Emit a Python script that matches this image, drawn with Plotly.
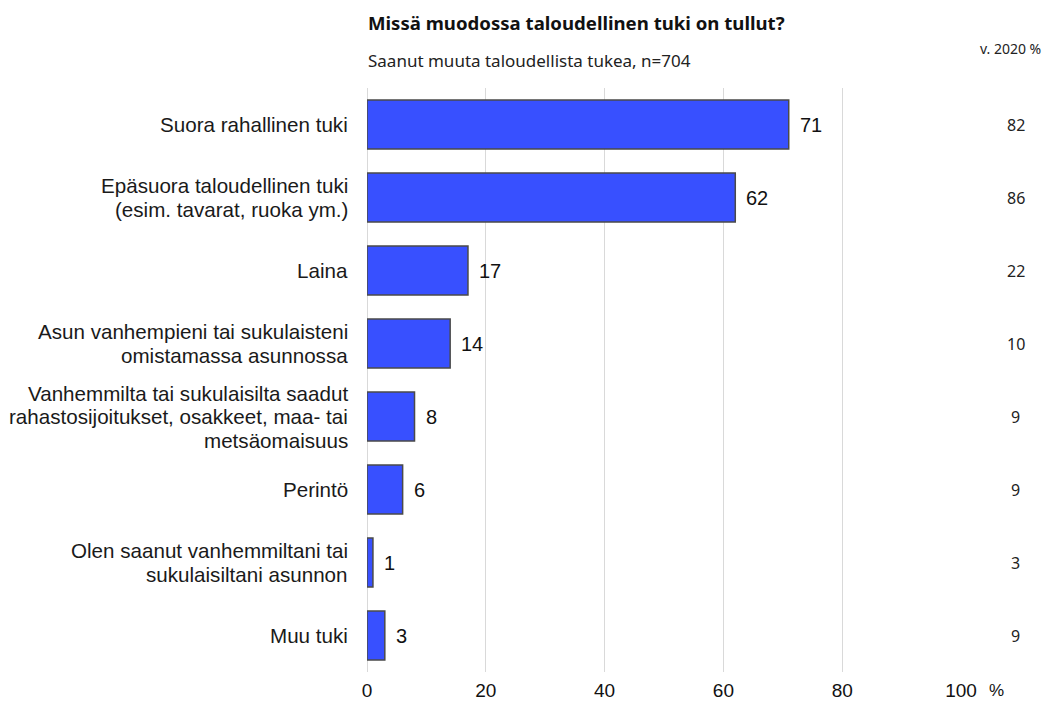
import plotly.graph_objects as go

categories = [
    "Suora rahallinen tuki",
    "Epäsuora taloudellinen tuki<br>(esim. tavarat, ruoka ym.)",
    "Laina",
    "Asun vanhempieni tai sukulaisteni<br>omistamassa asunnossa",
    "Vanhemmilta tai sukulaisilta saadut<br>rahastosijoitukset, osakkeet, maa- tai<br>metsäomaisuus",
    "Perintö",
    "Olen saanut vanhemmiltani tai<br>sukulaisiltani asunnon",
    "Muu tuki",
]
values_now = [71, 62, 17, 14, 8, 6, 1, 3]
values_2020 = [82, 86, 22, 10, 9, 9, 3, 9]
x_ticks = [0, 20, 40, 60, 80, 100]

LABEL_FONT = dict(family="Arial", size=20.6, color="#1a1a1a")
LINE_GAP = 23.5

fig = go.Figure()
fig.add_trace(go.Bar(
    y=categories,
    x=values_now,
    orientation="h",
    width=0.67,
    marker=dict(color="#3850ff", line=dict(color="#4a4a4a", width=1.5)),
    hoverinfo="skip",
))

# Category labels, one annotation per line for tighter line spacing
for cat in categories:
    lines = cat.split("<br>")
    n = len(lines)
    for i, line in enumerate(lines):
        fig.add_annotation(
            x=0, xref="paper", y=cat, yref="y",
            text=line, showarrow=False,
            xanchor="right", yanchor="middle",
            xshift=-17, yshift=((n - 1) / 2 - i) * LINE_GAP,
            font=LABEL_FONT,
        )

# Value labels just past each bar end
for cat, v in zip(categories, values_now):
    fig.add_annotation(
        x=v, xref="x", y=cat, yref="y",
        text=str(v), showarrow=False,
        xanchor="left", yanchor="middle", xshift=9,
        font=dict(family="Arial", size=20, color="#111"),
    )

# Comparison column for 2020
for cat, v in zip(categories, values_2020):
    fig.add_annotation(
        x=1.0925, xref="paper", y=cat, yref="y",
        text=str(v), showarrow=False,
        font=dict(family="Noto Sans", size=16, color="#222"),
        xanchor="center", yanchor="middle",
    )

fig.add_annotation(
    x=1.0606, xref="paper", y=0, yref="paper",
    text="%", showarrow=False, xanchor="center", yanchor="middle",
    yshift=-18,
    font=dict(family="Arial", size=17, color="#111"),
)

fig.add_annotation(
    x=0, xref="paper", y=1, yref="paper",
    text="<b>Missä muodossa taloudellinen tuki on tullut?</b>",
    showarrow=False, xanchor="left", yanchor="middle",
    xshift=-1, yshift=66,
    font=dict(family="Noto Sans", size=18.6, color="#111"),
)
fig.add_annotation(
    x=0, xref="paper", y=1, yref="paper",
    text="Saanut muuta taloudellista tukea, n=704",
    showarrow=False, xanchor="left", yanchor="middle",
    xshift=-1, yshift=28,
    font=dict(family="Noto Sans", size=17, color="#222"),
)
fig.add_annotation(
    x=1, xref="paper", y=1, yref="paper",
    text="v. 2020 %",
    showarrow=False, xanchor="right", yanchor="middle",
    xshift=82, yshift=40,
    font=dict(family="Noto Sans", size=14, color="#222"),
)

fig.update_layout(
    width=1048, height=706,
    margin=dict(l=367, r=87, t=88, b=34),
    paper_bgcolor="white", plot_bgcolor="white",
    showlegend=False,
    xaxis=dict(
        range=[0, 100], tickvals=x_ticks,
        showgrid=True, gridcolor="#d9d9d9", gridwidth=1,
        zeroline=True, zerolinecolor="#d9d9d9", zerolinewidth=1,
        showline=False, ticks="", ticklabelstandoff=5,
        tickfont=dict(family="Arial", size=19, color="#111"),
        automargin=False,
        fixedrange=True,
    ),
    yaxis=dict(
        autorange="reversed",
        showgrid=False, zeroline=False, showline=False,
        ticks="", showticklabels=False,
        automargin=False,
        fixedrange=True,
    ),
)

fig.write_html("out.html")
